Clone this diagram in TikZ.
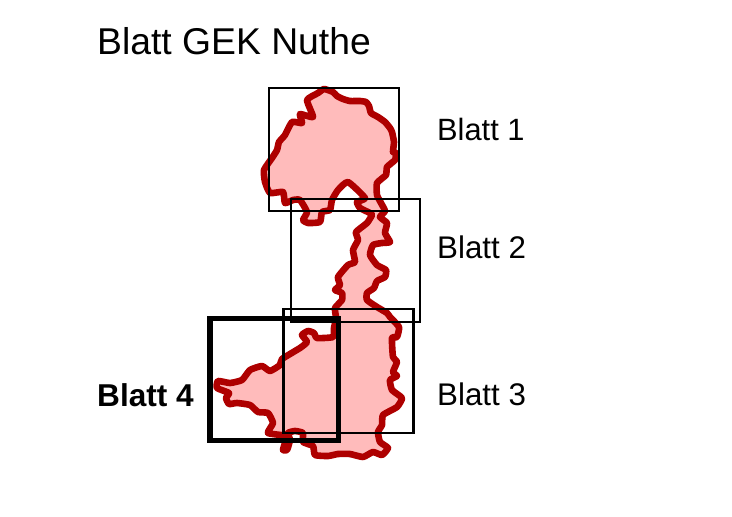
\documentclass[tikz,border=0pt]{standalone}
\usepackage{fontspec}
\setmainfont{Liberation Sans}
\tikzset{
  basin/.style={draw=basinred,fill=basinfill,line width=6.6pt,line join=round,line cap=round},
  sheet/.style={draw=black,line width=2.3pt,inner sep=0pt,outer sep=0pt,anchor=north west},
  sheetbold/.style={draw=black,line width=5.2pt,inner sep=0pt,outer sep=0pt,anchor=north west},
  lab/.style={anchor=base west,inner sep=0pt,font=\fontsize{30.8}{32}\selectfont},
}
\definecolor{basinred}{HTML}{AE0000}
\definecolor{basinfill}{HTML}{FFBBBB}
\begin{document}
\begin{tikzpicture}[x=1pt,y=-1pt]
\useasboundingbox (0,0) rectangle (732,517);
\draw[basin] plot[smooth cycle,tension=0.3] coordinates {
(324,89)(333,92)(337,96)(343,99)(350,101)(360,101)(366,102)(369,106)(371,113)(378,117)(385,122)(390,128)(392,132)(394,142)(393,152)(396,153)(395,160)(387,167)(386,175)(377,183)(377,195)(381,203)(385,211)(380,217)(387,223)(385,233)(390,242)(382,243)(373,245)(370,255)(377,265)(386,270)(385,277)(377,281)(374,288)(367,293)(367,300)(377,307)(387,313)(390,317)(399,327)(397,337)(392,338)(393,357)(397,362)(393,372)(397,376)(390,380)(392,390)(402,398)(397,407)(383,415)(382,425)(378,432)(380,442)(388,448)(382,455)(373,452)(363,457)(350,454)(338,454)(328,456)(315,455)(313,446)(303,442)(303,433)(295,431)(288,433)(290,440)(287,450)(283,450)(285,443)(287,436)(268,433)(273,423)(268,413)(258,412)(250,405)(237,403)(229,404)(226,398)(229,393)(217,388)(218,381)(230,383)(242,380)(250,370)(262,366)(270,371)(280,365)(282,359)(300,348)(307,342)(302,335)(308,331)(314,333)(317,338)(333,337)(334,328)(336,318)(335,308)(342,300)(342,293)(335,290)(340,285)(338,277)(348,265)(355,262)(353,250)(358,240)(356,232)(367,223)(372,215)(370,213)(360,208)(357,202)(365,198)(348,182)(338,190)(332,200)(330,210)(322,212)(320,222)(308,223)(303,220)(307,212)(300,200)(293,200)(285,203)(283,192)(270,193)(265,182)(264,170)(272,158)(277,150)(279,142)(285,135)(292,122)(302,123)(300,114)(313,117)(307,100)(318,93)};
\node[sheet,minimum width=130pt,minimum height=123pt] (b1) at (269.3,88) {};
\node[sheet,minimum width=129pt,minimum height=123pt] (b2) at (291,199) {};
\node[sheet,minimum width=130pt,minimum height=124pt] (b3) at (283.5,309.3) {};
\node[sheetbold,minimum width=128.3pt,minimum height=122.6pt] (b4) at (210,318.2) {};
\node[lab,font=\fontsize{37.3}{40}\selectfont] (title) at (97,54) {Blatt GEK Nuthe};
\node[lab] (l1) at (437,140) {Blatt 1};
\node[lab,font=\fontsize{31.3}{32}\selectfont] (l2) at (437,258) {Blatt 2};
\node[lab,font=\fontsize{31.3}{32}\selectfont] (l3) at (437,405) {Blatt 3};
\node[lab,font=\fontsize{31.6}{33}\selectfont\bfseries] (l4) at (97,406) {Blatt 4};
\end{tikzpicture}
\end{document}
